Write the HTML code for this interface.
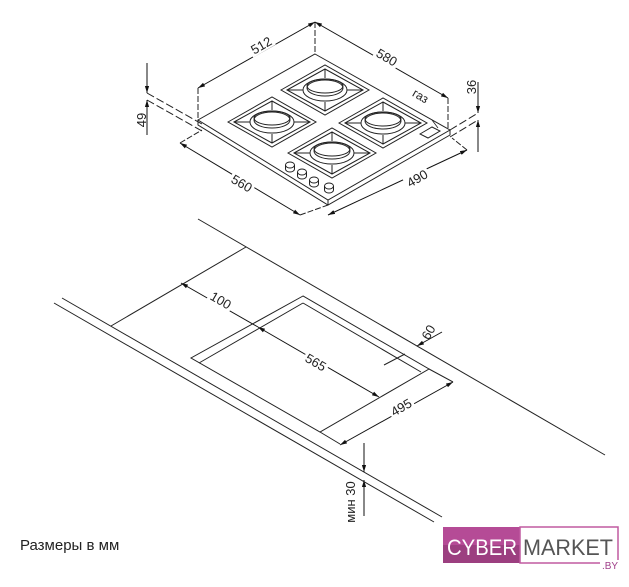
<!DOCTYPE html>
<html><head><meta charset="utf-8"><style>
html,body{margin:0;padding:0;background:#fff;}
svg{display:block;}
text{font-family:"Liberation Sans","DejaVu Sans",sans-serif;fill:#222;}
</style></head><body>
<svg width="629" height="587" viewBox="0 0 629 587" xmlns="http://www.w3.org/2000/svg">
<defs>
<marker id="a" viewBox="0 0 10 10" refX="10" refY="5" markerWidth="7" markerHeight="7" orient="auto-start-reverse"><path d="M0,2 L10,5 L0,8z" fill="#111"/></marker>
<g id="grate">
<polygon points="-44,0 0,-25 44,0 0,25" fill="none" stroke="#222" stroke-width="1"/>
<polygon points="-38,0 0,-21 38,0 0,21" fill="none" stroke="#222" stroke-width="1"/>
<path d="M-38,0 H-20 M20,0 H38 M0,-21 V-12 M0,12 V21" stroke="#222"/>
<ellipse cx="0" cy="0" rx="22" ry="11" fill="#fff" stroke="#222"/>
<ellipse cx="0" cy="-2" rx="18" ry="8" fill="#fff" stroke="#222"/>
<ellipse cx="0" cy="-4" rx="18" ry="7" fill="none" stroke="#222"/>
</g>
<g id="knob"><ellipse cx="0" cy="2" rx="4.5" ry="3" fill="#fff" stroke="#222"/><rect x="-4.5" y="-2" width="9" height="4" fill="#fff"/><path d="M-4.5,-2 V2 M4.5,-2 V2" stroke="#222"/><ellipse cx="0" cy="-2" rx="4.5" ry="3" fill="#fff" stroke="#222"/></g>
</defs>
<g stroke="#222" stroke-width="1" fill="none">
<polygon points="315,54 450,130 328,200 198,120" fill="#fff"/>
<path d="M198,120 L198,125 L328,205 L450,135 L450,130 M328,200 V205"/>
<path d="M147,93 L202,124 M147,100 L202,131 M450,130 L478,113 M450,137 L478,120" stroke-dasharray="8,3"/>
<path d="M198,88 V120 M315,22 V54 M448,98 V130 M180,143 L202,130 M300,215 L328,205 M467,150 L452,138" stroke-dasharray="6,2"/>
</g>
<use href="#grate" x="325" y="90"/>
<use href="#grate" x="272" y="122"/>
<use href="#grate" x="383" y="123"/>
<use href="#grate" x="332" y="153"/>
<use href="#knob" x="290" y="167"/>
<use href="#knob" x="302" y="174"/>
<use href="#knob" x="314" y="182"/>
<use href="#knob" x="329" y="188"/>
<g stroke="#222" fill="none">
<polygon points="420,134 432,127 440,131 428,138" fill="#fff"/>
<path d="M432,120 L438,128" stroke-width="0.8"/>
</g>
<g stroke="#111" stroke-width="1" fill="none">
<path d="M198,88 L315,22" marker-start="url(#a)" marker-end="url(#a)"/>
<path d="M315,22 L448,98" marker-start="url(#a)" marker-end="url(#a)"/>
<path d="M180,143 L300,215" marker-start="url(#a)" marker-end="url(#a)"/>
<path d="M328,215 L467,150" marker-start="url(#a)" marker-end="url(#a)"/>
<path d="M147,63 V93" marker-end="url(#a)"/><path d="M147,135 V100" marker-end="url(#a)"/>
<path d="M478,82 V113" marker-end="url(#a)"/><path d="M478,152 V120" marker-end="url(#a)"/>
</g>
<g font-size="13">
<rect x="248" y="38" width="26" height="14" fill="#fff" transform="rotate(-30 261 45)"/>
<text x="261" y="50" text-anchor="middle" transform="rotate(-30 261 45)">512</text>
<rect x="374" y="50" width="26" height="14" fill="#fff" transform="rotate(30 387 57)"/>
<text x="387" y="62" text-anchor="middle" transform="rotate(30 387 57)">580</text>
<rect x="229" y="176" width="26" height="14" fill="#fff" transform="rotate(30 242 183)"/>
<text x="242" y="188" text-anchor="middle" transform="rotate(30 242 183)">560</text>
<rect x="404" y="171" width="26" height="14" fill="#fff" transform="rotate(-30 417 178)"/>
<text x="417" y="183" text-anchor="middle" transform="rotate(-30 417 178)">490</text>
<text x="420" y="100" text-anchor="middle" font-size="12" transform="rotate(30 420 97)">газ</text>
<text x="141" y="125" text-anchor="middle" transform="rotate(-90 141 120)">49</text>
<text x="476" y="97" text-anchor="middle" transform="rotate(-90 471 92)">36</text>
</g>
<g stroke="#222" stroke-width="1" fill="none">
<path d="M198,219 L605,455"/>
<path d="M62,298 L442,517"/>
<path d="M54,303 L434,522"/>
<path d="M111,326 L246,247"/>
<path d="M303,296 L191,358 L320,432 L429,369 Z"/>
<path d="M303,303 L199,363 M303,303 L421,372"/>
<path d="M320,432 L340,444 M429,369 L453,382 M384,365 L405,354"/>
</g>
<g stroke="#111" fill="none">
<path d="M181,283 L258,327" marker-start="url(#a)"/>
<path d="M258,327 L379,397" marker-start="url(#a)" marker-end="url(#a)"/>
<path d="M442,332 L417,346" marker-end="url(#a)"/>
<path d="M340,445 L453,382" marker-start="url(#a)" marker-end="url(#a)"/>
<path d="M364,443 V472" marker-end="url(#a)"/>
<path d="M364,516 V480" marker-end="url(#a)"/>
</g>
<g font-size="13">
<rect x="208" y="293" width="26" height="14" fill="#fff" transform="rotate(30 221 300)"/>
<text x="221" y="305" text-anchor="middle" transform="rotate(30 221 300)">100</text>
<rect x="303" y="355" width="26" height="14" fill="#fff" transform="rotate(30 316 362)"/>
<text x="316" y="367" text-anchor="middle" transform="rotate(30 316 362)">565</text>
<rect x="388" y="400" width="26" height="14" fill="#fff" transform="rotate(-30 401 407)"/>
<text x="401" y="412" text-anchor="middle" transform="rotate(-30 401 407)">495</text>
<text x="428" y="337" text-anchor="middle" transform="rotate(-60 428 332)">60</text>
<rect x="346" y="485" width="14" height="46" fill="#fff"/>
<text x="358" y="509" text-anchor="middle" transform="rotate(-90 353 507)">мин 30</text>
</g>
<text x="20" y="550" font-size="15" fill="#111">Размеры в мм</text>
<rect x="443" y="527" width="78" height="36" fill="#b54b96"/>
<rect x="443" y="545" width="78" height="18" fill="#9c3f80"/>
<rect x="520" y="527" width="98" height="36" fill="#fff" stroke="#c05aa0" stroke-width="1.5"/>
<text x="447" y="555" font-size="22" textLength="70" lengthAdjust="spacingAndGlyphs" style="fill:#fff">CYBER</text>
<text x="523" y="555" font-size="22" textLength="90" lengthAdjust="spacingAndGlyphs" style="fill:#555">MARKET</text>
<rect x="600" y="560" width="20" height="10" fill="#fff"/>
<text x="610" y="569" text-anchor="middle" font-size="10" style="fill:#a0408a">.BY</text>
</svg>
</body></html>
